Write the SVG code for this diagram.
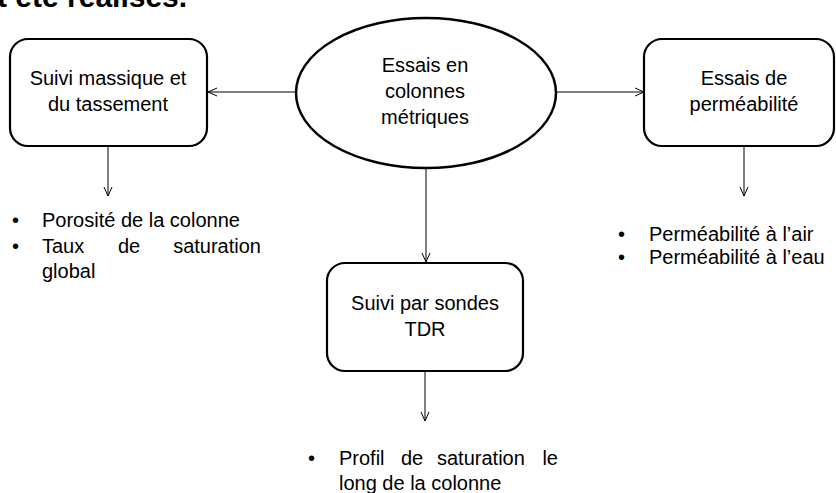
<svg xmlns="http://www.w3.org/2000/svg" width="836" height="493" viewBox="0 0 836 493">
<style>
text{font-family:"Liberation Sans",Arial,sans-serif;font-size:20px;fill:#000}
.c{text-anchor:middle}
.e{text-anchor:end}
.box{fill:#fff;stroke:#000;stroke-width:2.2}
.ln{stroke:#000;stroke-width:1;fill:none;marker-end:url(#ah)}
</style>
<defs>
<marker id="ah" viewBox="0 0 10 10" refX="10" refY="5" markerWidth="10" markerHeight="10" markerUnits="userSpaceOnUse" orient="auto">
<path d="M1,1 L10,5 L1,9" fill="none" stroke="#000" stroke-width="1"/>
</marker>
</defs>
<rect width="836" height="493" fill="#fff"/>
<text x="-3" y="7" style="font-size:30px;font-weight:bold">t été réalisés.</text>
<g id="connectors">
<line class="ln" x1="296" y1="92" x2="208" y2="92"/>
<line class="ln" x1="556" y1="92" x2="644" y2="92"/>
<line class="ln" x1="108" y1="147" x2="108" y2="196"/>
<line class="ln" x1="426" y1="169" x2="426" y2="262"/>
<line class="ln" x1="744" y1="147" x2="744" y2="196"/>
<line class="ln" x1="425" y1="372" x2="425" y2="421"/>
</g>
<g id="center">
<ellipse class="box" cx="426" cy="93" rx="130" ry="75" style="stroke-width:2.5"/>
<text class="c" x="425" y="72">Essais en</text>
<text class="c" x="425" y="98">colonnes</text>
<text class="c" x="425" y="124">métriques</text>
</g>
<g id="left">
<rect class="box" x="10" y="39" width="197" height="107" rx="18"/>
<text class="c" x="108" y="85">Suivi massique et</text>
<text class="c" x="108" y="111">du tassement</text>
</g>
<g id="right">
<rect class="box" x="644" y="39" width="190" height="107" rx="18"/>
<text class="c" x="744" y="85">Essais de</text>
<text class="c" x="744" y="111">perméabilité</text>
</g>
<g id="bottom">
<rect class="box" x="327" y="263" width="196" height="108" rx="18"/>
<text class="c" x="425" y="310">Suivi par sondes</text>
<text class="c" x="425" y="336">TDR</text>
</g>
<g id="left-list">
<text x="12" y="227">•</text>
<text x="42" y="227">Porosité de la colonne</text>
<text x="12" y="253">•</text>
<text x="42" y="253">Taux</text>
<text x="118" y="253">de</text>
<text class="e" x="261" y="253">saturation</text>
<text x="42" y="278">global</text>
</g>
<g id="right-list">
<text x="618" y="241">•</text>
<text x="649" y="241">Perméabilité à l’air</text>
<text x="618" y="264">•</text>
<text x="649" y="264">Perméabilité à l’eau</text>
</g>
<g id="bottom-list">
<text x="308" y="465">•</text>
<text x="339" y="465">Profil</text>
<text x="401" y="465">de</text>
<text x="437" y="465">saturation</text>
<text class="e" x="558" y="465">le</text>
<text x="339" y="490">long de la colonne</text>
</g>
</svg>
